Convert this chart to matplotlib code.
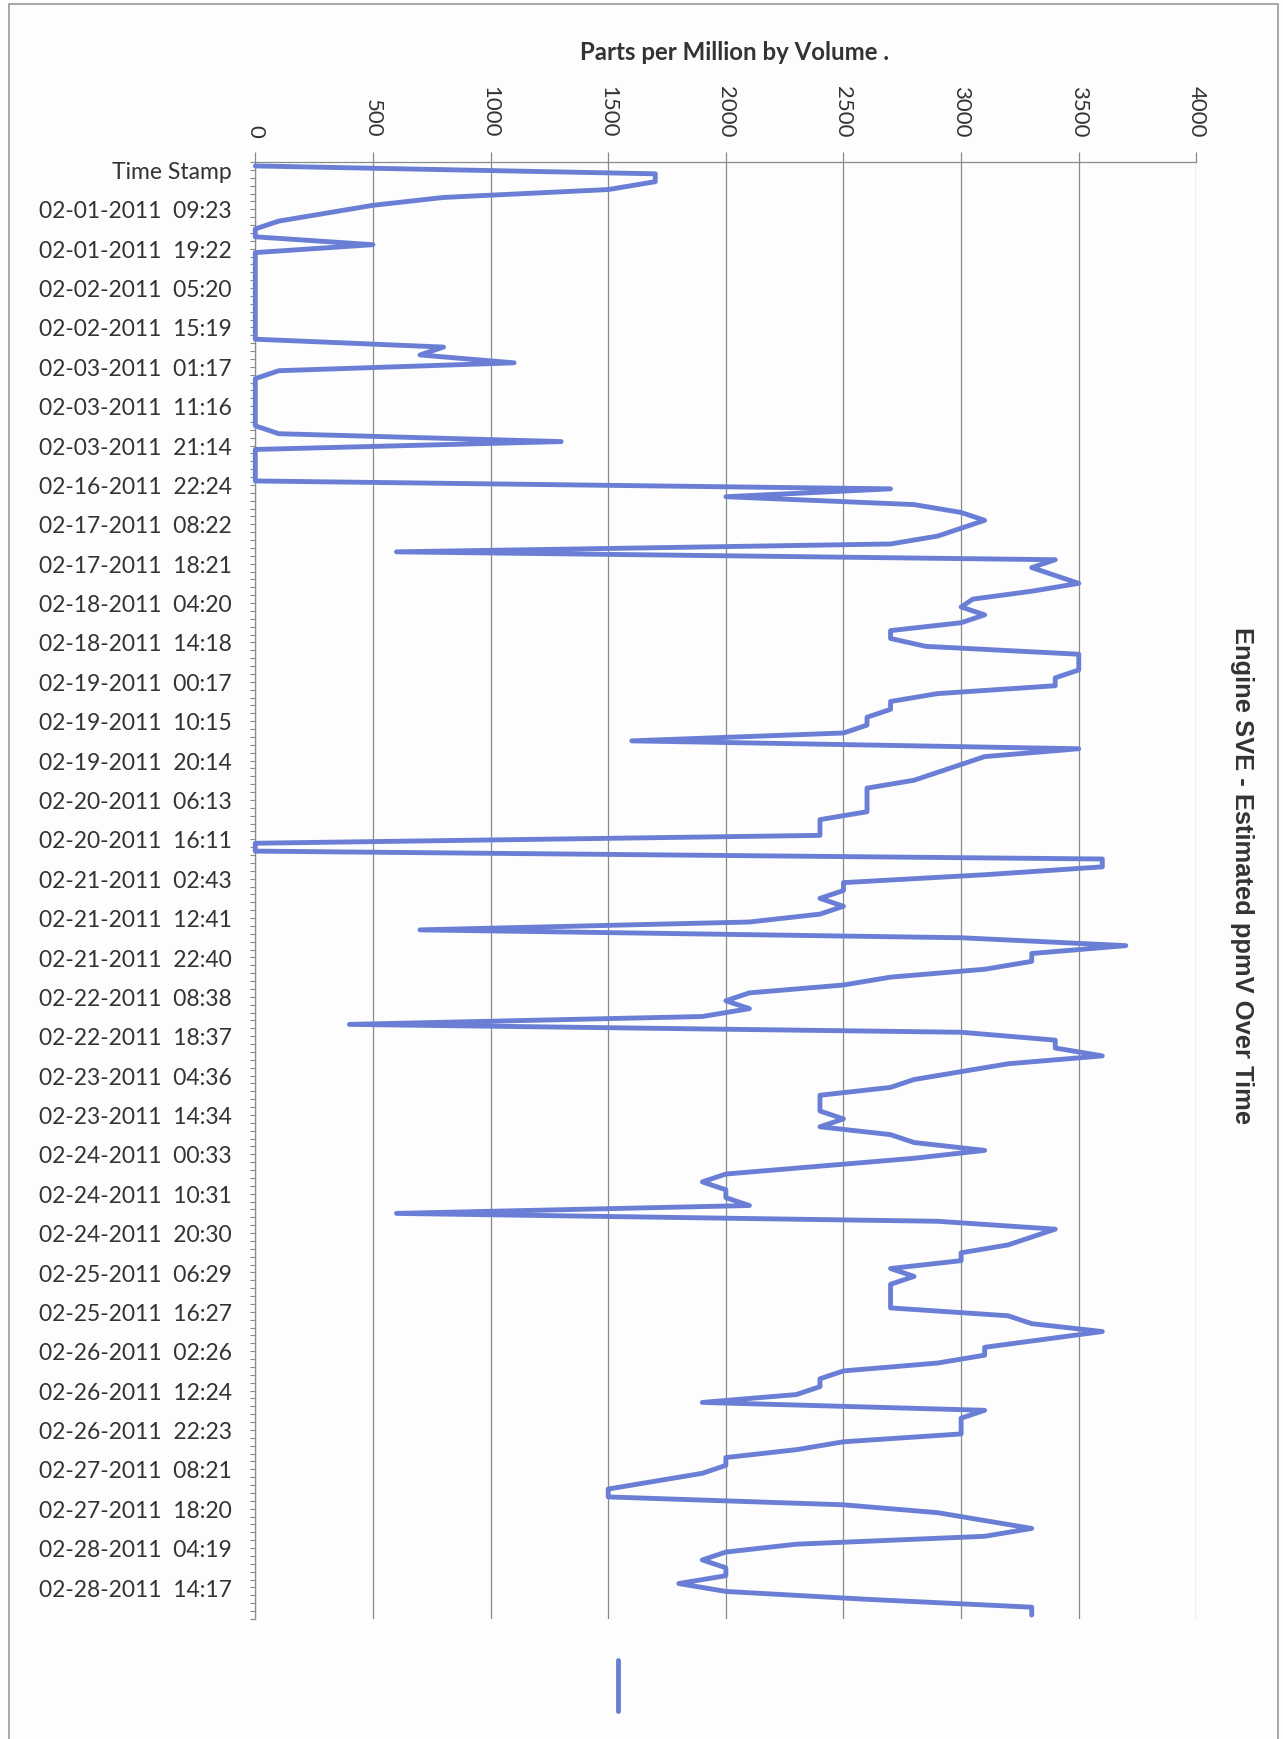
import matplotlib
matplotlib.use("Agg")
import matplotlib.pyplot as plt
from matplotlib.lines import Line2D
from matplotlib.patches import Rectangle
from matplotlib.transforms import ScaledTranslation
import numpy as np

# ---------------- data ----------------
stamp_labels = [
    "Time Stamp",
    "02-01-2011  09:23", "02-01-2011  19:22", "02-02-2011  05:20", "02-02-2011  15:19",
    "02-03-2011  01:17", "02-03-2011  11:16", "02-03-2011  21:14", "02-16-2011  22:24",
    "02-17-2011  08:22", "02-17-2011  18:21", "02-18-2011  04:20", "02-18-2011  14:18",
    "02-19-2011  00:17", "02-19-2011  10:15", "02-19-2011  20:14", "02-20-2011  06:13",
    "02-20-2011  16:11", "02-21-2011  02:43", "02-21-2011  12:41", "02-21-2011  22:40",
    "02-22-2011  08:38", "02-22-2011  18:37", "02-23-2011  04:36", "02-23-2011  14:34",
    "02-24-2011  00:33", "02-24-2011  10:31", "02-24-2011  20:30", "02-25-2011  06:29",
    "02-25-2011  16:27", "02-26-2011  02:26", "02-26-2011  12:24", "02-26-2011  22:23",
    "02-27-2011  08:21", "02-27-2011  18:20", "02-28-2011  04:19", "02-28-2011  14:17",
]
label_every = 5

ppmv = [
    0, 1700, 1700, 1500, 800,
    500, 300, 100, 0, 0,
    500, 0, 0, 0, 0,
    0, 0, 0, 0, 0,
    0, 0, 0, 800, 700,
    1100, 100, 0, 0, 0,
    0, 0, 0, 0, 100,
    1300, 0, 0, 0, 0,
    0, 2700, 2000, 2800, 3000,
    3100, 3000, 2900, 2700, 600,
    3400, 3300, 3400, 3500, 3300,
    3050, 3000, 3100, 3000, 2700,
    2700, 2850, 3500, 3500, 3500,
    3400, 3400, 2900, 2700, 2700,
    2600, 2600, 2500, 1600, 3500,
    3100, 3000, 2900, 2800, 2600,
    2600, 2600, 2600, 2400, 2400,
    2400, 0, 0, 3600, 3600,
    3100, 2500, 2500, 2400, 2500,
    2400, 2100, 700, 3000, 3700,
    3300, 3300, 3100, 2700, 2500,
    2100, 2000, 2100, 1900, 400,
    3000, 3400, 3400, 3600, 3200,
    3000, 2800, 2700, 2400, 2400,
    2400, 2500, 2400, 2700, 2800,
    3100, 2800, 2400, 2000, 1900,
    2000, 2000, 2100, 600, 2900,
    3400, 3300, 3200, 3000, 3000,
    2700, 2800, 2700, 2700, 2700,
    2700, 3200, 3300, 3600, 3350,
    3100, 3100, 2900, 2500, 2400,
    2400, 2300, 1900, 3100, 3000,
    3000, 3000, 2500, 2300, 2000,
    2000, 1900, 1700, 1500, 1500,
    2500, 2900, 3100, 3300, 3100,
    2300, 2000, 1900, 2000, 2000,
    1800, 2000, 2600, 3300, 3300,
]

value_ticks = [0, 500, 1000, 1500, 2000, 2500, 3000, 3500, 4000]
value_max = 4000
axis_title = "Parts per Million by Volume ."
chart_title = "Engine SVE - Estimated ppmV Over Time"

# ---------------- style ----------------
W, H, DPI = 1283, 1740, 100
BG = "#fcfdfc"
LINE = "#6a7ed6"
GRID = "#858d88"
TXT = "#333333"


def fx(px):
    return px / W


def fy(py):
    return 1 - py / H


fig = plt.figure(figsize=(W / DPI, H / DPI), dpi=DPI, facecolor=BG)
ax = fig.add_axes([fx(255.3), fy(1620), fx(1196.4) - fx(255.3), fy(163) - fy(1620)])
ax.set_facecolor(BG)

n = len(ppmv)
idx = np.arange(n)
ax.plot(ppmv, idx, color=LINE, lw=3.5, solid_joinstyle="round",
        solid_capstyle="round", clip_on=False, zorder=3)

ax.set_xlim(0, value_max)
ax.set_ylim(n - 0.5, -0.5)

# value axis (top)
ax.xaxis.tick_top()
ax.set_xticks(value_ticks)
ax.set_xticklabels([str(v) for v in value_ticks], rotation=-90,
                   fontsize=16, family="Lato", color=TXT)
ax.tick_params(axis="x", which="major", direction="out", length=7.2,
               width=0.9, color=GRID, pad=11)
ax.grid(axis="x", color=GRID, lw=0.9)
ax.set_axisbelow(True)

# category axis (left)
ax.set_yticks(idx[::label_every])
ax.set_yticklabels(stamp_labels, fontsize=16.5, family="Lato", color=TXT)
ax.set_yticks(np.arange(-0.5, n, 1), minor=True)
ax.tick_params(axis="y", which="major", length=0, pad=17)
ax.tick_params(axis="y", which="minor", length=3.6, width=0.8,
               color=GRID, direction="out")
shift_down = ScaledTranslation(0, -3.5 / DPI, fig.dpi_scale_trans)
for lab in ax.get_yticklabels():
    lab.set_transform(lab.get_transform() + shift_down)

for side in ("right", "bottom"):
    ax.spines[side].set_visible(False)
for side in ("left", "top"):
    ax.spines[side].set_color(GRID)
    ax.spines[side].set_linewidth(0.9)

fig.text(fx(734), fy(52), axis_title, ha="center", va="center",
         fontsize=17.3, fontweight="bold", family="Lato", color=TXT)
fig.text(fx(1242), fy(876), chart_title, rotation=-90, ha="center",
         va="center", fontsize=18.4, fontweight="bold",
         family="Liberation Sans", color="#333333")

# legend key (series has no visible name)
fig.add_artist(Line2D([fx(618), fx(618)], [fy(1661), fy(1712)],
                      transform=fig.transFigure, color=LINE, lw=3.5,
                      solid_capstyle="round"))

# chart area border
fig.add_artist(Rectangle((fx(9), -0.02), fx(1278) - fx(9), fy(5) + 0.02,
                         transform=fig.transFigure, fill=False,
                         ec="#9a9a9a", lw=1.2))

fig.savefig("out.png", dpi=DPI, facecolor=BG)
